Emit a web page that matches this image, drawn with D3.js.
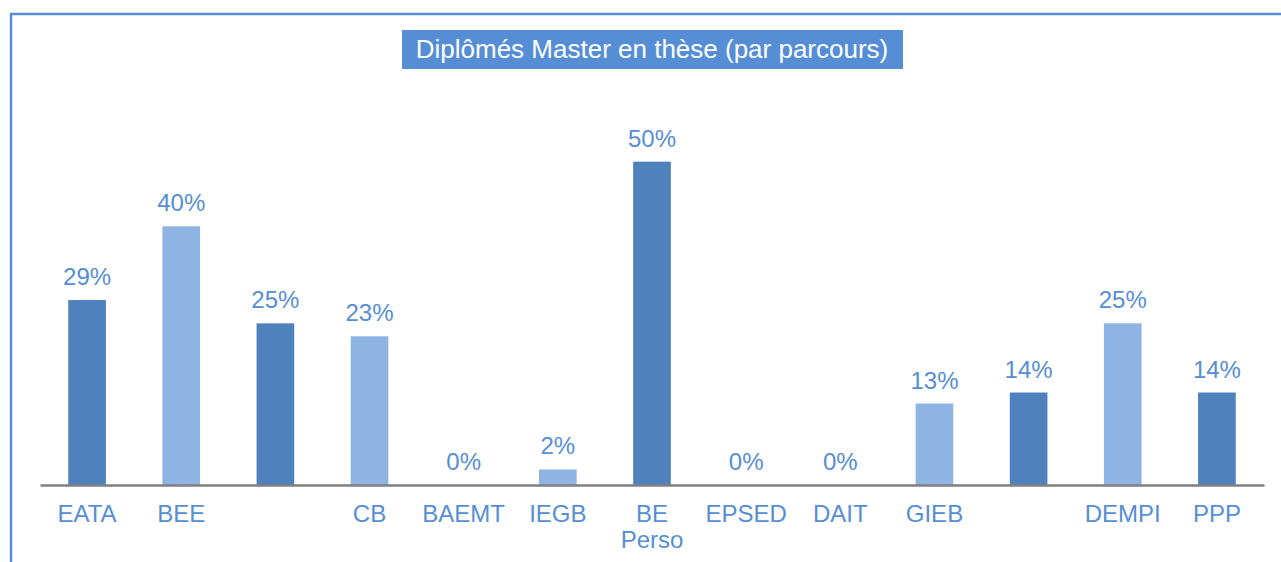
<!DOCTYPE html>
<html>
<head>
<meta charset="utf-8">
<script src="https://cdnjs.cloudflare.com/ajax/libs/d3/7.8.5/d3.min.js"></script>
<style>
  body { margin: 0; background: #fff; }
  svg { display: block; font-family: "Liberation Sans", Arial, sans-serif; }
</style>
</head>
<body>
<div id="chart"></div>
<script>
var categories = ["EATA", "BEE", "", "CB", "BAEMT", "IEGB", "BE\nPerso", "EPSED", "DAIT", "GIEB", "", "DEMPI", "PPP"];
var values = [28.6, 40, 25, 23, 0, 2.4, 50, 0, 0, 12.6, 14.3, 25, 14.3];
var title = "Diplômés Master en thèse (par parcours)";

var width = 1281, height = 562;
var margin = { left: 40, right: 17, top: 97, bottom: 77 };

var dark = "#4f81bd", light = "#8eb4e3", textBlue = "#558ed5";

var svg = d3.select("#chart").append("svg")
  .attr("width", width)
  .attr("height", height);

// frame: only top and left edges show
svg.append("rect")
  .attr("x", 11).attr("y", 14)
  .attr("width", width + 20).attr("height", height + 20)
  .attr("fill", "none")
  .attr("stroke", "#558ed5")
  .attr("stroke-width", 2.5);

var x = d3.scaleBand()
  .domain(d3.range(categories.length))
  .range([margin.left, width - margin.right])
  .paddingInner(0.6)
  .paddingOuter(0.3);

var y = d3.scaleLinear()
  .domain([0, 60])
  .range([height - margin.bottom, margin.top]);

svg.selectAll(".bar")
  .data(values)
  .enter().append("rect")
  .attr("class", "bar")
  .attr("x", function (d, i) { return x(i); })
  .attr("width", x.bandwidth())
  .attr("y", function (d) { return y(d); })
  .attr("height", function (d) { return y(0) - y(d); })
  .attr("fill", function (d, i) { return i % 2 ? light : dark; });

svg.selectAll(".val")
  .data(values)
  .enter().append("text")
  .attr("class", "val")
  .attr("x", function (d, i) { return x(i) + x.bandwidth() / 2; })
  .attr("y", function (d) { return y(d) - 15; })
  .attr("text-anchor", "middle")
  .attr("fill", textBlue)
  .style("font-size", "24px")
  .text(function (d) { return Math.round(d) + "%"; });

// x axis
var axis = svg.append("g")
  .attr("transform", "translate(0," + y(0) + ")")
  .call(d3.axisBottom(x).tickSize(0).tickFormat(""));
axis.select(".domain").attr("stroke", "#808080").attr("stroke-width", 2.5);

var cat = svg.selectAll(".cat")
  .data(categories)
  .enter().append("text")
  .attr("class", "cat")
  .attr("text-anchor", "middle")
  .attr("fill", textBlue)
  .style("font-size", "24px")
  .attr("x", function (d, i) { return x(i) + x.bandwidth() / 2; })
  .attr("y", y(0) + 37);

cat.selectAll("tspan")
  .data(function (d) { return d.split("\n"); })
  .enter().append("tspan")
  .attr("x", function () { return this.parentNode.getAttribute("x"); })
  .attr("dy", function (d, i) { return i ? 26 : 0; })
  .text(function (d) { return d; });

// title box
svg.append("rect")
  .attr("x", 402).attr("y", 30)
  .attr("width", 501).attr("height", 39)
  .attr("fill", "#558ed5");
svg.append("text")
  .attr("x", 652)
  .attr("y", 58)
  .attr("text-anchor", "middle")
  .attr("fill", "#fff")
  .style("font-size", "26px")
  .text(title);
</script>
</body>
</html>
